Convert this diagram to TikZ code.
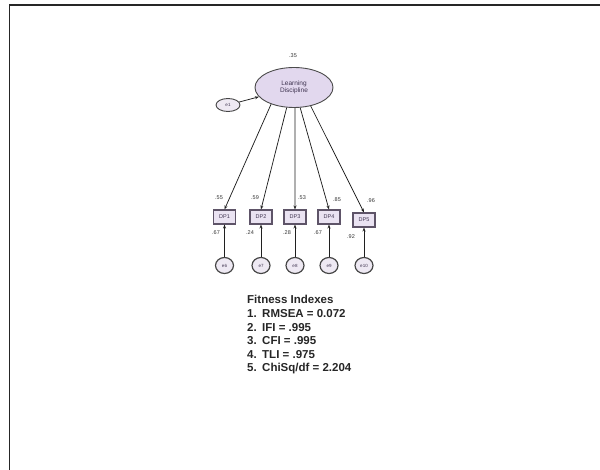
\documentclass[tikz,border=0pt]{standalone}
\usepackage{fontspec}
\setmainfont{Liberation Sans}
\usetikzlibrary{arrows.meta,shapes.geometric}
\definecolor{lav}{HTML}{E2D8EE}
\definecolor{boxfill}{HTML}{EAE3F2}
\definecolor{boxline}{HTML}{5E5468}
\definecolor{boxtext}{HTML}{3F3450}
\definecolor{errfill}{HTML}{EEE9F3}
\begin{document}
\begin{tikzpicture}[x=1pt,y=-1pt,
  lat/.style={ellipse,draw=gray!60!black,fill=lav,line width=0.9pt,inner sep=0pt,align=center,
    font=\fontsize{6.5}{7.5}\selectfont,text=boxtext},
  obs/.style={rectangle,draw=boxline,fill=boxfill,line width=1.1pt,minimum width=22pt,minimum height=14pt,
    inner sep=0pt,font=\fontsize{5.5}{6}\selectfont,text=boxtext},
  err/.style={ellipse,draw=gray!55!black,fill=errfill,line width=1.2pt,minimum width=18pt,minimum height=16pt,
    inner sep=0pt,font=\fontsize{4.5}{5}\selectfont,text=boxtext},
  lbl/.style={font=\fontsize{5.5}{6}\selectfont,text=gray!40!black,inner sep=0pt},
  arr/.style={-{Stealth[length=4pt,width=3pt]},line width=0.75pt,draw=gray!25!black},
  fitline/.style={font=\fontsize{11.5}{13.5}\selectfont\bfseries,anchor=base west,inner sep=0pt,text=black!85}
]
\useasboundingbox (0,0) rectangle (600,470);
% frame
\draw[line width=1.5pt,black!85] (600,5) -- (9.5,5) -- (9.5,470);

% latent variable
\node[lat,minimum width=78pt,minimum height=40pt] (L) at (294,87.5) {Learning\\Discipline};
\node[lbl] (Lv) at (293,56) {.35};
\node[err,minimum width=24pt,minimum height=13pt,line width=0.9pt] (e1) at (228,105) {e1};
\draw[arr] (e1) -- (L);

% observed
\node[obs] (DP1) at (224.5,217) {DP1};
\node[obs] (DP2) at (261,217) {DP2};
\node[obs] (DP3) at (295,217) {DP3};
\node[obs] (DP4) at (329,217) {DP4};
\node[obs] (DP5) at (364,220) {DP5};

\draw[arr] (L.216) -- (DP1.north);
\draw[arr] (L.250) -- (DP2.north);
\draw[arr] (L.273) -- (DP3.north);
\draw[arr] (L.287) -- (DP4.north);
\draw[arr] (L.312) -- (DP5.north);

% errors
\node[err] (c1) at (224.5,265.5) {e6};
\node[err] (c2) at (261,265.5) {e7};
\node[err] (c3) at (295,265.5) {e8};
\node[err] (c4) at (329,265.5) {e9};
\node[err] (c5) at (364,265.5) {e10};

\draw[arr] (c1) -- (DP1);
\draw[arr] (c2) -- (DP2);
\draw[arr] (c3) -- (DP3);
\draw[arr] (c4) -- (DP4);
\draw[arr] (c5) -- (DP5);

% labels above boxes
\node[lbl] (t1) at (219,198) {.55};
\node[lbl] (t2) at (255,198) {.59};
\node[lbl] (t3) at (302,198) {.53};
\node[lbl] (t4) at (337,200) {.85};
\node[lbl] (t5) at (371,201) {.96};
% labels below boxes
\node[lbl] (b1) at (216,233) {.67};
\node[lbl] (b2) at (250,233) {.24};
\node[lbl] (b3) at (287,233) {.28};
\node[lbl] (b4) at (318,233) {.67};
\node[lbl] (b5) at (351,237) {.92};

% fitness indexes
\node[fitline] (f0) at (247,304) {Fitness Indexes};
\node[fitline] (f1) at (247,318) {\makebox[15pt][l]{1.}RMSEA = 0.072};
\node[fitline] (f2) at (247,331.5) {\makebox[15pt][l]{2.}IFI = .995};
\node[fitline] (f3) at (247,345) {\makebox[15pt][l]{3.}CFI = .995};
\node[fitline] (f4) at (247,358.5) {\makebox[15pt][l]{4.}TLI = .975};
\node[fitline] (f5) at (247,372) {\makebox[15pt][l]{5.}ChiSq/df = 2.204};
\end{tikzpicture}
\end{document}
